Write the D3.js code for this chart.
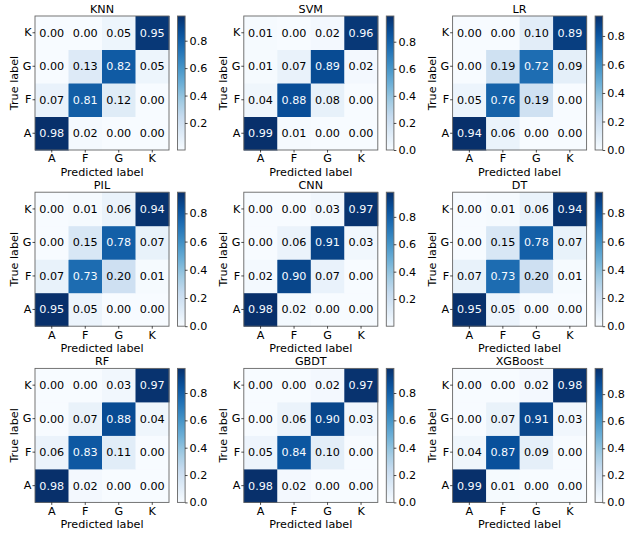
<!DOCTYPE html>
<html>
<head>
<meta charset="utf-8">
<script src="https://cdn.jsdelivr.net/npm/d3@7"></script>
<style>
  body { margin: 0; background: #fff; }
  svg text { font-family: "DejaVu Sans", sans-serif; }
</style>
</head>
<body>
<svg id="cms"></svg>
<script>
// class labels, rows of each matrix are true label A, F, G, K; columns predicted A, F, G, K
const classes = ["A", "F", "G", "K"];
const models = ["KNN", "SVM", "LR", "PIL", "CNN", "DT", "RF", "GBDT", "XGBoost"];

const knn = [[0.98, 0.02, 0.00, 0.00], [0.07, 0.81, 0.12, 0.00], [0.00, 0.13, 0.82, 0.05], [0.00, 0.00, 0.05, 0.95]];
const svm = [[0.99, 0.01, 0.00, 0.00], [0.04, 0.88, 0.08, 0.00], [0.01, 0.07, 0.89, 0.02], [0.01, 0.00, 0.02, 0.96]];
const lr = [[0.94, 0.06, 0.00, 0.00], [0.05, 0.76, 0.19, 0.00], [0.00, 0.19, 0.72, 0.09], [0.00, 0.00, 0.10, 0.89]];
const pil = [[0.95, 0.05, 0.00, 0.00], [0.07, 0.73, 0.20, 0.01], [0.00, 0.15, 0.78, 0.07], [0.00, 0.01, 0.06, 0.94]];
const cnn = [[0.98, 0.02, 0.00, 0.00], [0.02, 0.90, 0.07, 0.00], [0.00, 0.06, 0.91, 0.03], [0.00, 0.00, 0.03, 0.97]];
const dt = [[0.95, 0.05, 0.00, 0.00], [0.07, 0.73, 0.20, 0.01], [0.00, 0.15, 0.78, 0.07], [0.00, 0.01, 0.06, 0.94]];
const rf = [[0.98, 0.02, 0.00, 0.00], [0.06, 0.83, 0.11, 0.00], [0.00, 0.07, 0.88, 0.04], [0.00, 0.00, 0.03, 0.97]];
const gbdt = [[0.98, 0.02, 0.00, 0.00], [0.05, 0.84, 0.10, 0.00], [0.00, 0.06, 0.90, 0.03], [0.00, 0.00, 0.02, 0.97]];
const xgb = [[0.99, 0.01, 0.00, 0.00], [0.04, 0.87, 0.09, 0.00], [0.00, 0.07, 0.91, 0.03], [0.00, 0.00, 0.02, 0.98]];
const matrices = [knn, svm, lr, pil, cnn, dt, rf, gbdt, xgb];

// lower end of each colour bar (the unrounded minimum is a hair above 0 for some)
const colorMin = [0.003, 0, 0, 0, 0.002, 0, 0, 0, 0];
const barTicks = [0, 0.2, 0.4, 0.6, 0.8];

const width = 632;
const height = 534;
const size = 134;
const fs = 11.2;

const blues = d3.piecewise(d3.interpolateRgb, ["#f7fbff", "#deebf7", "#c6dbef", "#9ecae1", "#6baed6", "#4292c6", "#2171b5", "#08519c", "#08306b"]);

const svg = d3.select("#cms")
    .attr("width", width)
    .attr("height", height)
    .attr("viewBox", [0, 0, width, height]);

const defs = svg.append("defs");

models.forEach((name, i) => {
    const data = matrices[i];
    const col = i % 3, row = Math.floor(i / 3);
    const left = 35 + col * 208.8;
    const top = 16 + row * 176.2;

    const vmin = colorMin[i];
    const vmax = d3.max(data.flat());
    const color = d3.scaleSequential(blues).domain([vmin, vmax]).clamp(true);
    const thresh = (vmin + vmax) / 2;

    const x = d3.scaleBand().domain(classes).range([0, size]);
    const y = d3.scaleBand().domain(classes.slice().reverse()).range([0, size]);

    const g = svg.append("g").attr("transform", `translate(${left},${top})`);

    const cells = data.flatMap((r, ri) => r.map((v, ci) => ({ t: classes[ri], p: classes[ci], v })));

    g.selectAll("rect.cell")
        .data(cells)
        .enter()
        .append("rect")
        .attr("class", "cell")
        .attr("x", d => x(d.p))
        .attr("y", d => y(d.t))
        .attr("width", x.bandwidth() + 0.5)
        .attr("height", y.bandwidth() + 0.5)
        .attr("fill", d => color(d.v));

    g.selectAll("text.val")
        .data(cells)
        .enter()
        .append("text")
        .attr("class", "val")
        .attr("x", d => x(d.p) + x.bandwidth() / 2)
        .attr("y", d => y(d.t) + y.bandwidth() / 2)
        .attr("dy", "0.36em")
        .attr("text-anchor", "middle")
        .attr("font-size", fs)
        .attr("fill", d => d.v < thresh ? "#000" : "#f7fbff")
        .text(d => d3.format(".2f")(d.v));

    g.append("rect")
        .attr("width", size)
        .attr("height", size)
        .attr("fill", "none")
        .attr("stroke", "#666")
        .attr("stroke-width", 0.9);

    const xAxis = g.append("g")
        .attr("transform", `translate(0,${size})`)
        .call(d3.axisBottom(x).tickSize(2.5).tickPadding(2));
    const yAxis = g.append("g")
        .call(d3.axisLeft(y).tickSize(2.5).tickPadding(1));
    [xAxis, yAxis].forEach(a => {
        a.select(".domain").remove();
        a.selectAll("text").attr("font-size", fs).attr("fill", "#000").style("font-family", "DejaVu Sans");
        a.selectAll("line").attr("stroke", "#000").attr("stroke-width", 0.7);
    });

    g.append("text")
        .attr("x", size / 2)
        .attr("y", -3)
        .attr("text-anchor", "middle")
        .attr("font-size", fs)
        .text(name);

    g.append("text")
        .attr("x", size / 2)
        .attr("y", size + 26)
        .attr("text-anchor", "middle")
        .attr("font-size", fs)
        .text("Predicted label");

    g.append("text")
        .attr("transform", `translate(-17,${size / 2}) rotate(-90)`)
        .attr("text-anchor", "middle")
        .attr("font-size", fs)
        .text("True label");

    // colour bar
    const gradId = "grad" + i;
    const grad = defs.append("linearGradient")
        .attr("id", gradId)
        .attr("x1", 0).attr("y1", 1).attr("x2", 0).attr("y2", 0);
    d3.range(0, 1.0001, 0.05).forEach(t => {
        grad.append("stop").attr("offset", t).attr("stop-color", blues(t));
    });

    const cb = g.append("g").attr("transform", `translate(${size + 8.5},0)`);
    const cbScale = d3.scaleLinear().domain([vmin, vmax]).range([size, 0]);
    cb.append("rect")
        .attr("width", 7.6)
        .attr("height", size)
        .attr("fill", `url(#${gradId})`)
        .attr("stroke", "#666")
        .attr("stroke-width", 0.9);
    const cbAxis = cb.append("g")
        .attr("transform", "translate(7.6,0)")
        .call(d3.axisRight(cbScale)
            .tickValues(barTicks.filter(t => t >= vmin && t <= vmax))
            .tickFormat(d3.format(".1f"))
            .tickSize(2.5)
            .tickPadding(2));
    cbAxis.select(".domain").remove();
    cbAxis.selectAll("text").attr("font-size", fs).attr("fill", "#000").style("font-family", "DejaVu Sans");
    cbAxis.selectAll("line").attr("stroke", "#000").attr("stroke-width", 0.7);
});
</script>
</body>
</html>
